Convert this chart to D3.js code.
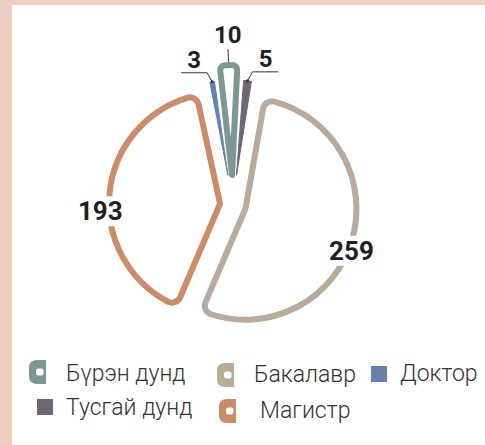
<!DOCTYPE html>
<html>
<head>
<meta charset="utf-8">
<script src="https://cdn.jsdelivr.net/npm/d3@7"></script>
<style>
  html, body { margin: 0; padding: 0; background: #fff; }
  svg { display: block; font-family: Roboto, "Noto Sans", sans-serif; }
</style>
</head>
<body>
<div id="chart"></div>
<script>
// Data: education level counts, clockwise from the top
const categories = ["Бүрэн дунд", "Тусгай дунд", "Бакалавр", "Магистр", "Доктор"];
const values = [10, 5, 259, 193, 3];
const colors = ["#7f9792", "#6e6670", "#b9aa9c", "#cd8b68", "#6482ae"];

// Legend order as in the picture
const legendItems = ["Бүрэн дунд", "Бакалавр", "Доктор", "Тусгай дунд", "Магистр"];

const width = 485, height = 445;
const cx = 233, cy = 205;
const R = 111;          // radius of the big slices
const explode = 13;     // big slices are pulled out of the centre
const deg = Math.PI / 180;

const svg = d3.select("#chart")
    .append("svg")
    .attr("width", width)
    .attr("height", height);

// peach frame on the left and top
svg.append("rect").attr("width", width).attr("height", height).attr("fill", "#eccfc2");
svg.append("rect").attr("x", 12).attr("y", 5)
    .attr("width", width - 12).attr("height", height - 5).attr("fill", "#fff");

const data = categories.map((c, i) => ({name: c, value: values[i]}));
const color = d3.scaleOrdinal().domain(categories).range(colors);

const start = -7 * deg;
const pie = d3.pie()
    .value((d) => d.value)
    .sort(null)
    .startAngle(start)
    .endAngle(start + 2 * Math.PI)
    .padAngle(3 * deg);

const arcs = pie(data);

const span = (d) => d.endAngle - d.startAngle - d.padAngle;
const isThin = (d) => span(d) < 0.2;
const isHollow = (d) => span(d) > 0.1;
const outerR = (d) => (isThin(d) ? (isHollow(d) ? 140 : 125) : R);

// thin slices keep the gap, big ones are separated by pulling them out
const arc = d3.arc()
    .innerRadius((d) => (isThin(d) ? 30 : 0))
    .outerRadius(outerR)
    .padAngle((d) => (isThin(d) ? d.padAngle : 0))
    .cornerRadius((d) => (isThin(d) ? (isHollow(d) ? 5 : 0) : 9));

const mid = (d) => (d.startAngle + d.endAngle) / 2;
const polar = (a, r) => [Math.sin(a) * r, -Math.cos(a) * r];

const g = svg.append("g").attr("transform", `translate(${cx},${cy})`);

g.selectAll(".slice")
    .data(arcs)
    .join("path")
    .attr("class", "slice")
    .attr("transform", (d) => {
        if (isThin(d)) return null;
        const [dx, dy] = polar(mid(d), explode);
        return `translate(${dx},${dy})`;
    })
    .attr("d", arc)
    .attr("fill", (d) => (isThin(d) && !isHollow(d) ? color(d.data.name) : "#fff"))
    .attr("stroke", (d) => color(d.data.name))
    .attr("stroke-width", (d) => (isThin(d) && !isHollow(d) ? 1 : 6))
    .attr("stroke-linejoin", "round");

// Labels of the big slices sit on the rim and break the outline
const labelNudge = {"Магистр": {da: -9, r: 120}, "Бакалавр": {da: 5, r: 114}};

arcs.filter((d) => !isThin(d)).forEach((d) => {
    const [ox, oy] = polar(mid(d), explode);
    const nudge = labelNudge[d.data.name];
    const [lx, ly] = polar(mid(d) + nudge.da * deg, nudge.r);
    const lg = g.append("g").attr("transform", `translate(${ox + lx},${oy + ly})`);
    const mask = lg.append("rect").attr("fill", "#fff");
    const t = lg.append("text")
        .attr("text-anchor", "middle")
        .attr("dy", "0.35em")
        .style("font-size", "26px")
        .style("font-weight", "bold")
        .attr("fill", "#231f20")
        .text(d3.format(",")(d.data.value));
    const bb = t.node().getBBox();
    mask.attr("x", bb.x - 3).attr("y", bb.y).attr("width", bb.width + 6).attr("height", bb.height);
});

// Labels of the thin slices with leader lines
arcs.filter((d) => isThin(d)).forEach((d) => {
    const a = mid(d);
    const r = outerR(d);
    const [px, py] = polar(a, r);
    const textStyle = (sel) => sel
        .attr("text-anchor", "middle")
        .style("font-size", "24px")
        .style("font-weight", "bold")
        .attr("fill", "#231f20")
        .text(d.data.value);

    if (Math.abs(px) < 6) {
        const [x0, y0] = polar(a, r + 3);
        const [x1, y1] = polar(a, r + 16);
        g.append("line")
            .attr("x1", x0).attr("y1", y0).attr("x2", x1).attr("y2", y1)
            .attr("stroke", "#333").attr("stroke-width", 1);
        const [tx, ty] = polar(a, r + 22);
        g.append("text").attr("x", tx).attr("y", ty).call(textStyle);
    } else {
        const side = px < 0 ? -1 : 1;
        const ex = px + side * 5, ey = py - 9;
        const hx = ex + side * 26;
        g.append("polyline")
            .attr("points", `${px},${py} ${ex},${ey} ${hx},${ey}`)
            .attr("fill", "none")
            .attr("stroke", "#333")
            .attr("stroke-width", 1);
        g.append("circle").attr("cx", px).attr("cy", py).attr("r", 1.6).attr("fill", "#333");
        g.append("text").attr("x", (ex + hx) / 2).attr("y", ey - 5).call(textStyle);
    }
});

// Legend
const legendLayout = [
    {x: 29, y: 360, tx: 66, base: 381},
    {x: 217, y: 363, tx: 254, base: 382},
    {x: 371, y: 366, tx: 400, base: 381},
    {x: 37, y: 399, tx: 66, base: 415},
    {x: 219, y: 399, tx: 260, base: 418},
];

const legend = svg.append("g");
legendItems.forEach((name, i) => {
    const L = legendLayout[i];
    const item = legend.append("g");
    const sample = arcs.find((d) => d.data.name === name);
    if (isThin(sample) && !isHollow(sample)) {
        item.append("rect")
            .attr("x", L.x).attr("y", L.y)
            .attr("width", 16).attr("height", 16)
            .attr("fill", color(name));
    } else {
        // small rounded tab with a white hole, like the outlined slices
        const w = 17, h = 24, rr = 8;
        item.append("path")
            .attr("d", `M${L.x + rr},${L.y} H${L.x + w} V${L.y + h} H${L.x + rr}` +
                ` Q${L.x},${L.y + h} ${L.x},${L.y + h - rr} V${L.y + rr} Q${L.x},${L.y} ${L.x + rr},${L.y} Z`)
            .attr("fill", color(name));
        item.append("rect")
            .attr("x", L.x + 7).attr("y", L.y + 8.5)
            .attr("width", 7.5).attr("height", 7)
            .attr("rx", 2.5)
            .attr("fill", "#fff");
    }
    item.append("text")
        .attr("x", L.tx).attr("y", L.base)
        .style("font-family", "'Roboto Light', Roboto, sans-serif")
        .style("font-size", "23px")
        .style("font-weight", 300)
        .attr("fill", "#333")
        .text(name);
});
</script>
</body>
</html>
